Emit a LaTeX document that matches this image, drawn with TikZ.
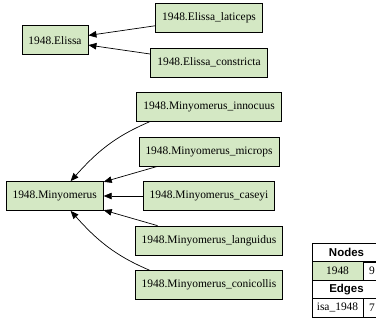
\documentclass[tikz,border=0pt]{standalone}
\usepackage{fontspec}
\setmainfont{Liberation Serif}
\newfontfamily\hdrfont{Liberation Sans}
\usetikzlibrary{arrows.meta,positioning}
\definecolor{taxgreen}{RGB}{212,232,196}

\begin{document}
\begin{tikzpicture}[->,>={Triangle[length=8bp,width=6.5bp]},x=1bp,y=1bp,
		node distance=44.5bp,line width=0.7bp,
		font=\fontsize{11.5}{13}\selectfont]
		\tikzstyle{taxon}=[rectangle,draw,fill=taxgreen,minimum height=29bp,inner xsep=6.5bp]
		\tikzstyle{cell}=[rectangle,draw,inner sep=0pt,minimum height=18.5bp]
		\tikzstyle{hdr}=[cell,minimum width=69bp,font=\hdrfont\bfseries\fontsize{11.5}{13}\selectfont]
		\useasboundingbox (0,0) rectangle (376,-328);
		
		\node[taxon] (lat) at (209,-18)     {1948.Elissa\_laticeps};
		\node[taxon] (con) [below of=lat]   {1948.Elissa\_constricta};
		\node[taxon] (inn) [below of=con]   {1948.Minyomerus\_innocuus};
		\node[taxon] (mic) [below of=inn]   {1948.Minyomerus\_microps};
		\node[taxon] (cas) [below of=mic]   {1948.Minyomerus\_caseyi};
		\node[taxon] (lan) [below of=cas]   {1948.Minyomerus\_languidus};
		\node[taxon] (coc) [below of=lan]   {1948.Minyomerus\_conicollis};
		
		\node[taxon] (eli) at (55,-40.25)   {1948.Elissa};
		\node[taxon] (min) [left of=cas,node distance=154.3bp] {1948.Minyomerus};
		
		% legend
		\node[hdr] (nodeshdr) at (346.5,-252.75) {Nodes};
		\node[cell,fill=taxgreen,minimum width=51bp] (grp) at (337.5,-271) {1948};
		\node[cell,minimum width=18bp] (grpnum) at (372,-271) {9};
		\node[hdr] (edgeshdr) at (346.5,-289.25) {Edges};
		\node[cell,minimum width=51bp] (rel) at (337.5,-307.75) {isa\_1948};
		\node[cell,minimum width=18bp] (relnum) at (372,-307.75) {7};
		
		\path (lat) edge (eli)
		(con) edge (eli)
		(inn.194) edge[out=203,in=48] (min.43)
		(mic) edge (min)
		(cas) edge (min)
		(lan) edge (min)
		(coc.166) edge[out=157,in=312] (min.317);
		\end{tikzpicture}
\end{document}
